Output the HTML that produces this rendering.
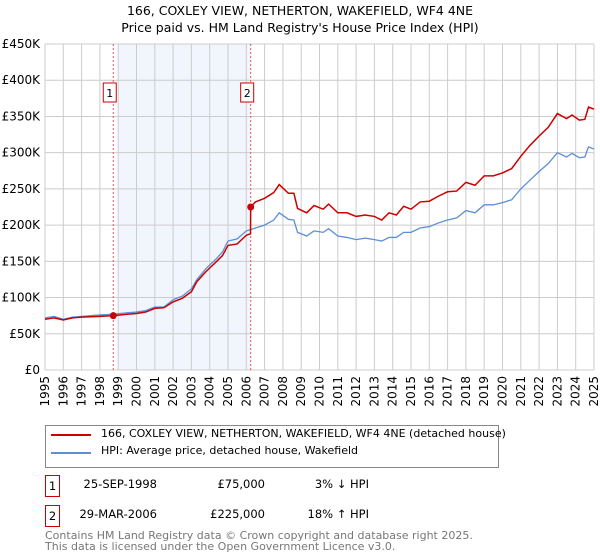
<!DOCTYPE html>
<html><head><meta charset="utf-8"><style>
body{margin:0;background:#fff;font-family:"DejaVu Sans","Liberation Sans",sans-serif;}
#wrap{position:relative;width:600px;height:560px;overflow:hidden;}
.t{position:absolute;font-size:11.5px;color:#000;white-space:nowrap;}
</style></head><body>
<div id="wrap">
<svg id="chart" width="600" height="420" style="position:absolute;left:0;top:0" font-family="DejaVu Sans, Liberation Sans, sans-serif">
<text x="300" y="15" text-anchor="middle" font-size="12.5">166, COXLEY VIEW, NETHERTON, WAKEFIELD, WF4 4NE</text>
<text x="300" y="32" text-anchor="middle" font-size="12.5">Price paid vs. HM Land Registry's House Price Index (HPI)</text>
<g id="grid"></g><g id="marks"></g>
</svg>
<div style="position:absolute;left:45px;top:425px;width:452px;height:41px;border:1px solid #888;">
 <div style="position:absolute;left:5px;top:8px;width:40px;height:2px;background:#cc0000"></div>
 <div class="t" style="left:55px;top:1px;font-size:11px">166, COXLEY VIEW, NETHERTON, WAKEFIELD, WF4 4NE (detached house)</div>
 <div style="position:absolute;left:5px;top:26px;width:40px;height:2px;background:#5b8fd6"></div>
 <div class="t" style="left:55px;top:18px;font-size:11px">HPI: Average price, detached house, Wakefield</div>
</div>
<div style="position:absolute;left:45px;top:475px;width:13px;height:20px;border:1px solid #cc0000;font-size:11.5px;text-align:center;line-height:20px">1</div>
<div class="t" style="right:443px;top:477px">25-SEP-1998</div>
<div class="t" style="right:335px;top:477px">£75,000</div>
<div class="t" style="right:231px;top:477px">3% ↓ HPI</div>
<div style="position:absolute;left:45px;top:505px;width:13px;height:20px;border:1px solid #cc0000;font-size:11.5px;text-align:center;line-height:20px">2</div>
<div class="t" style="right:443px;top:507px">29-MAR-2006</div>
<div class="t" style="right:335px;top:507px">£225,000</div>
<div class="t" style="right:231px;top:507px">18% ↑ HPI</div>
<div class="t" style="left:45px;top:530px;color:#777;font-size:11px;line-height:11px">Contains HM Land Registry data © Crown copyright and database right 2025.<br>This data is licensed under the Open Government Licence v3.0.</div>
</div>
<script>
const yTicks=[0,50000,100000,150000,200000,250000,300000,350000,400000,450000];
const yTickLabels=["£0","£50K","£100K","£150K","£200K","£250K","£300K","£350K","£400K","£450K"];
const years=[1995,1996,1997,1998,1999,2000,2001,2002,2003,2004,2005,2006,2007,2008,2009,2010,2011,2012,2013,2014,2015,2016,2017,2018,2019,2020,2021,2022,2023,2024,2025];
const hpiDates=[1995,1995.5,1996,1996.5,1997,1998,1998.7,1999.5,2000,2000.5,2001,2001.5,2002,2002.5,2003,2003.3,2003.8,2004.3,2004.7,2005,2005.5,2006,2006.5,2007,2007.5,2007.8,2008.3,2008.6,2008.8,2009.3,2009.7,2010.2,2010.5,2011,2011.5,2012,2012.5,2013,2013.4,2013.8,2014.2,2014.6,2015,2015.5,2016,2016.5,2017,2017.5,2018,2018.5,2019,2019.5,2020,2020.5,2021,2021.5,2022,2022.5,2023,2023.5,2023.8,2024.2,2024.5,2024.7,2025];
const hpiValues=[72,74,70,73,74,76,77,79,80,82,87,87,97,102,112,125,140,152,163,178,181,192,196,200,207,217,208,207,190,185,192,190,195,185,183,180,182,180,178,183,183,190,190,196,198,203,207,210,220,217,228,228,231,235,250,262,274,285,300,294,299,293,294,308,305];
const redDates=[1995,1995.5,1996,1996.5,1997,1998,1998.73,1999.5,2000,2000.5,2001,2001.5,2002,2002.5,2003,2003.3,2003.8,2004.3,2004.7,2005,2005.5,2006,2006.23,2006.24,2006.5,2007,2007.5,2007.8,2008.3,2008.6,2008.8,2009.3,2009.7,2010.2,2010.5,2011,2011.5,2012,2012.5,2013,2013.4,2013.8,2014.2,2014.6,2015,2015.5,2016,2016.5,2017,2017.5,2018,2018.5,2019,2019.5,2020,2020.5,2021,2021.5,2022,2022.5,2023,2023.5,2023.8,2024.2,2024.5,2024.7,2025];
const redValues=[70,72,69,72,73,74,75,77,78,80,85,86,94,99,108,122,136,148,158,172,174,186,188,225,232,237,245,256,244,244,223,217,227,222,229,217,217,212,214,212,207,217,214,226,222,232,233,240,246,247,259,255,268,268,272,278,295,310,323,335,354,347,352,345,346,363,360];
const saleDates=[1998.73,2006.24];
const salePrices=[75000,225000];
const saleLabels=["1","2"];
const X0=45,X1=594,Y0=370,Y1=44;
const x=d=>X0+(d-1995)/30*(X1-X0);
const y=v=>Y0-v/450000*(Y0-Y1);
const NS="http://www.w3.org/2000/svg";
const grid=document.getElementById('grid'),marks=document.getElementById('marks');
function mk(tag,attrs,parent){const e=document.createElementNS(NS,tag);for(const k in attrs)e.setAttribute(k,attrs[k]);parent.appendChild(e);return e;}
const bg=mk('rect',{x:X0,y:Y1,width:X1-X0,height:Y0-Y1,fill:'#fff'},grid);


const sh=mk('rect',{x:x(1999.0),y:Y1,width:x(2006.2)-x(1999.0),height:Y0-Y1,fill:'#eef3fc',opacity:0.8},grid);


yTicks.forEach((v,i)=>{
 const l=mk('line',{x1:X0,x2:X1,y1:y(v),y2:y(v),stroke:'#ccc','stroke-width':1},grid);
 
 
 const t=mk('text',{x:X0-5,y:y(v)+4,'text-anchor':'end','font-size':12},grid);
 t.textContent=yTickLabels[i];
 
 
});
years.forEach(yr=>{
 const l=mk('line',{x1:x(yr),x2:x(yr),y1:Y1,y2:Y0,stroke:'#ccc','stroke-width':1},grid);
 
 
 const t=mk('text',{x:0,y:0,'text-anchor':'end','font-size':12,transform:`translate(${x(yr)+4},${Y0+6}) rotate(-90)`},grid);
 t.textContent=yr;
 
 
});
saleDates.forEach((d,i)=>{
 const l=mk('line',{x1:x(d),x2:x(d),y1:Y1,y2:Y0,stroke:'#e05555','stroke-width':1,'stroke-dasharray':'2,2'},marks);
 
 
 const bx=x(d)-10;
 const r=mk('rect',{x:bx,y:83,width:13,height:19,fill:'#fff',stroke:'#cc0000'},marks);
 
 
 const t=mk('text',{x:bx+6.5,y:97,'text-anchor':'middle','font-size':11},marks);
 t.textContent=saleLabels[i];
 
 
});
const pb=mk('polyline',{points:hpiDates.map((d,i)=>x(d)+','+y(hpiValues[i]*1000)).join(' '),fill:'none',stroke:'#5b8fd6','stroke-width':1.3},marks);


const pr=mk('polyline',{points:redDates.map((d,i)=>x(d)+','+y(redValues[i]*1000)).join(' '),fill:'none',stroke:'#cc0000','stroke-width':1.5},marks);


saleDates.forEach((d,i)=>{
 const c=mk('circle',{cx:x(d),cy:y(salePrices[i]),r:3.5,fill:'#cc0000'},marks);
 
 
});
</script>
</body></html>
